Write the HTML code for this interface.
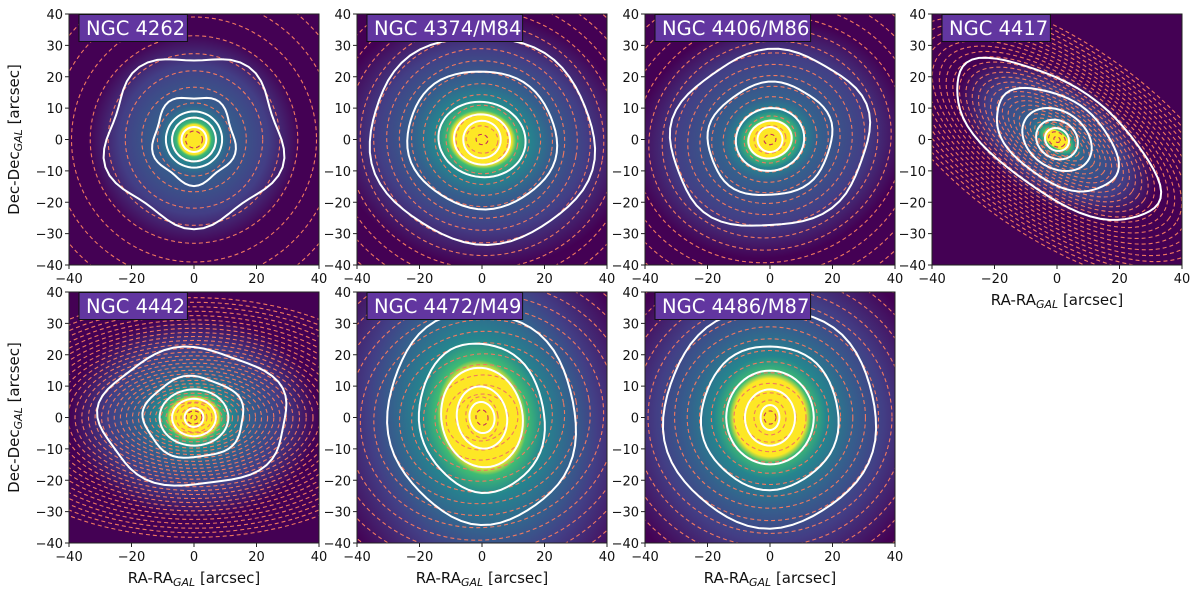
<!DOCTYPE html>
<html><head><meta charset="utf-8">
<style>
html,body{margin:0;padding:0;background:#fff;width:1200px;height:596px;overflow:hidden;font-family:"Liberation Sans","DejaVu Sans",sans-serif}
svg{display:block}
svg text{font-family:"DejaVu Sans","Liberation Sans",sans-serif}
</style></head><body>
<svg id="fig" width="1200" height="596" viewBox="0 0 1200 596" xmlns="http://www.w3.org/2000/svg" overflow="hidden">
<defs></defs>
</svg>
<script>
// ---- data ----
const names = ["NGC 4262","NGC 4374/M84","NGC 4406/M86","NGC 4417","NGC 4442","NGC 4472/M49","NGC 4486/M87"];
const coreRx = [5,10,7,4.5,8,10,11];
const coreRy = [5,8.5,6,3.5,6.5,13,12];
const tiltDeg = [0,10,-15,35,0,-10,0];
const outerQ = [1,0.95,0.9,0.45,0.55,0.9,0.95];
const dashStep = [4.5,3.2,3.2,1.8,1.6,3.2,3.2];
const glow = [34,48,44,36,40,52,52];
const contours = [
  [[4,4],[7,7],[9,9],[13,14],[28,27]],
  [[6,6],[9,8],[14,12],[24,22],[36,33]],
  [[4,4],[7,6],[11,10],[20,18],[32,28]],
  [[4,3.5],[7,6],[12,9],[22,13],[38,17]],
  [[3,3],[7,6],[11,9],[16,13],[30,22]],
  [[4,5],[8,10],[13,16],[20,24],[30,34]],
  [[3,4],[8,9],[14,15],[22,23],[34,35]]
];
const wobble = [1.5,0.6,0.8,0.7,1.0,0.5,0.5];
const xTicks = [-40,-20,0,20,40];
const yTicks = [-40,-30,-20,-10,0,10,20,30,40];
const panelX = [69,357,645,932,69,357,645];
const panelY = [14,14,14,14,292,292,292];
const PW=250, PH=251;
const NS="http://www.w3.org/2000/svg";
const fig=document.getElementById('fig');
const defs=fig.querySelector('defs');
function el(t,a,p){const e=document.createElementNS(NS,t);for(const k in a)e.setAttribute(k,a[k]);(p||fig).appendChild(e);return e;}

names.forEach((nm,i)=>{
  const x0=panelX[i], y0=panelY[i];
  const sx=v=>x0+(v+40)/80*PW, sy=v=>y0+(40-v)/80*PH, s=PW/80;
  const g=el('g',{});
  
  
  const cid='clip'+i; const cp=el('clipPath',{id:cid},defs);
  el('rect',{x:x0,y:y0,width:PW,height:PH},cp);
  const gid='grad'+i; const rg=el('radialGradient',{id:gid,cx:0.5,cy:0.5,r:0.5},defs);
  const gr=glow[i], cr=Math.max(coreRx[i],coreRy[i]);
  const f=cr/gr;
  [[0,'#fde725'],[f*0.95,'#fde725'],[f*1.1,'#3fbc73'],[f*1.5,'#25858e'],[f*2.2,'#35608d'],[0.7,'#433e85'],[1,'#440154']].forEach(st=>el('stop',{offset:Math.min(st[0],1),'stop-color':st[1]},rg));
  const inner=el('g',{'clip-path':'url(#'+cid+')'},g);
  el('rect',{x:x0,y:y0,width:PW,height:PH,fill:'#440154'},inner);
  const cx=sx(0), cy=sy(0), t=tiltDeg[i];
  const tr=`translate(${cx},${cy}) rotate(${t})`;
  const q0=coreRy[i]/coreRx[i];
  const bg=el('ellipse',{cx:0,cy:0,rx:gr*s,ry:gr*s*(i===3?0.55:q0),fill:`url(#${gid})`,transform:tr},inner);
  
  
  for(let r=dashStep[i]*0.6;r<70;r+=dashStep[i]*(r<10?1:1+r/100)){
    const q = r<8 ? q0 : outerQ[i];
    const d=el('ellipse',{cx:0,cy:0,rx:r*s,ry:r*s*q,fill:'none',stroke:r<4?'#c4305a':'#f07860','stroke-width':1.1,'stroke-dasharray':'4 3',transform:tr},inner);
    
    
  }
  contours[i].forEach((c,k)=>{
    let pts=[]; const w=k>=3?wobble[i]*(k-2):0;
    for(let a=0;a<=360;a+=6){const rad=a*Math.PI/180;const ff=1+w/Math.max(c[0],c[1])*Math.sin(5*rad+i)*0.6;
      pts.push([Math.cos(rad)*c[0]*s*ff,Math.sin(rad)*c[1]*s*ff]);}
    const p=el('path',{d:'M'+pts.map(p=>p[0].toFixed(1)+','+p[1].toFixed(1)).join('L')+'Z',fill:'none',stroke:'#fff','stroke-width':2,transform:tr},inner);
    
    
  });
  el('rect',{x:x0,y:y0,width:PW,height:PH,fill:'none',stroke:'#222','stroke-width':1},g);
  const tb=el('g',{},g);
  
  
  const tw=nm.length*11.8+14;
  el('rect',{x:x0+10,y:y0+0.5,width:tw,height:27,fill:'#6236a0',stroke:'#111','stroke-width':1},tb);
  const tt=el('text',{x:x0+17,y:y0+21,fill:'#fff','font-size':19.5},tb); tt.textContent=nm;
  xTicks.forEach(v=>{const X=sx(v);el('line',{x1:X,y1:y0+PH,x2:X,y2:y0+PH+4,stroke:'#222'},g);
    const tx=el('text',{x:X,y:y0+PH+18,'font-size':13,'text-anchor':'middle',fill:'#111'},g);
    
    
    tx.textContent=v<0?'\u2212'+(-v):v;});
  yTicks.forEach(v=>{const Y=sy(v);el('line',{x1:x0-4,y1:Y,x2:x0,y2:Y,stroke:'#222'},g);
    const ty=el('text',{x:x0-6,y:Y+5,'font-size':13,'text-anchor':'end',fill:'#111'},g);
    
    
    ty.textContent=v<0?'\u2212'+(-v):v;});
  if(i>=3){const xl=el('text',{x:x0+PW/2,y:y0+PH+40,'font-size':15,'text-anchor':'middle',fill:'#111'},g);
    
    
    xl.innerHTML='RA-RA<tspan font-size="11" font-style="italic" dy="3">GAL</tspan><tspan dy="-3"> [arcsec]</tspan>';}
  if(i===0||i===4){const yl=el('text',{transform:`translate(${x0-50},${y0+PH/2}) rotate(-90)`,'font-size':15,'text-anchor':'middle',fill:'#111'},g);
    
    
    yl.innerHTML='Dec-Dec<tspan font-size="11" font-style="italic" dy="3">GAL</tspan><tspan dy="-3"> [arcsec]</tspan>';}
});
</script>
</body></html>
